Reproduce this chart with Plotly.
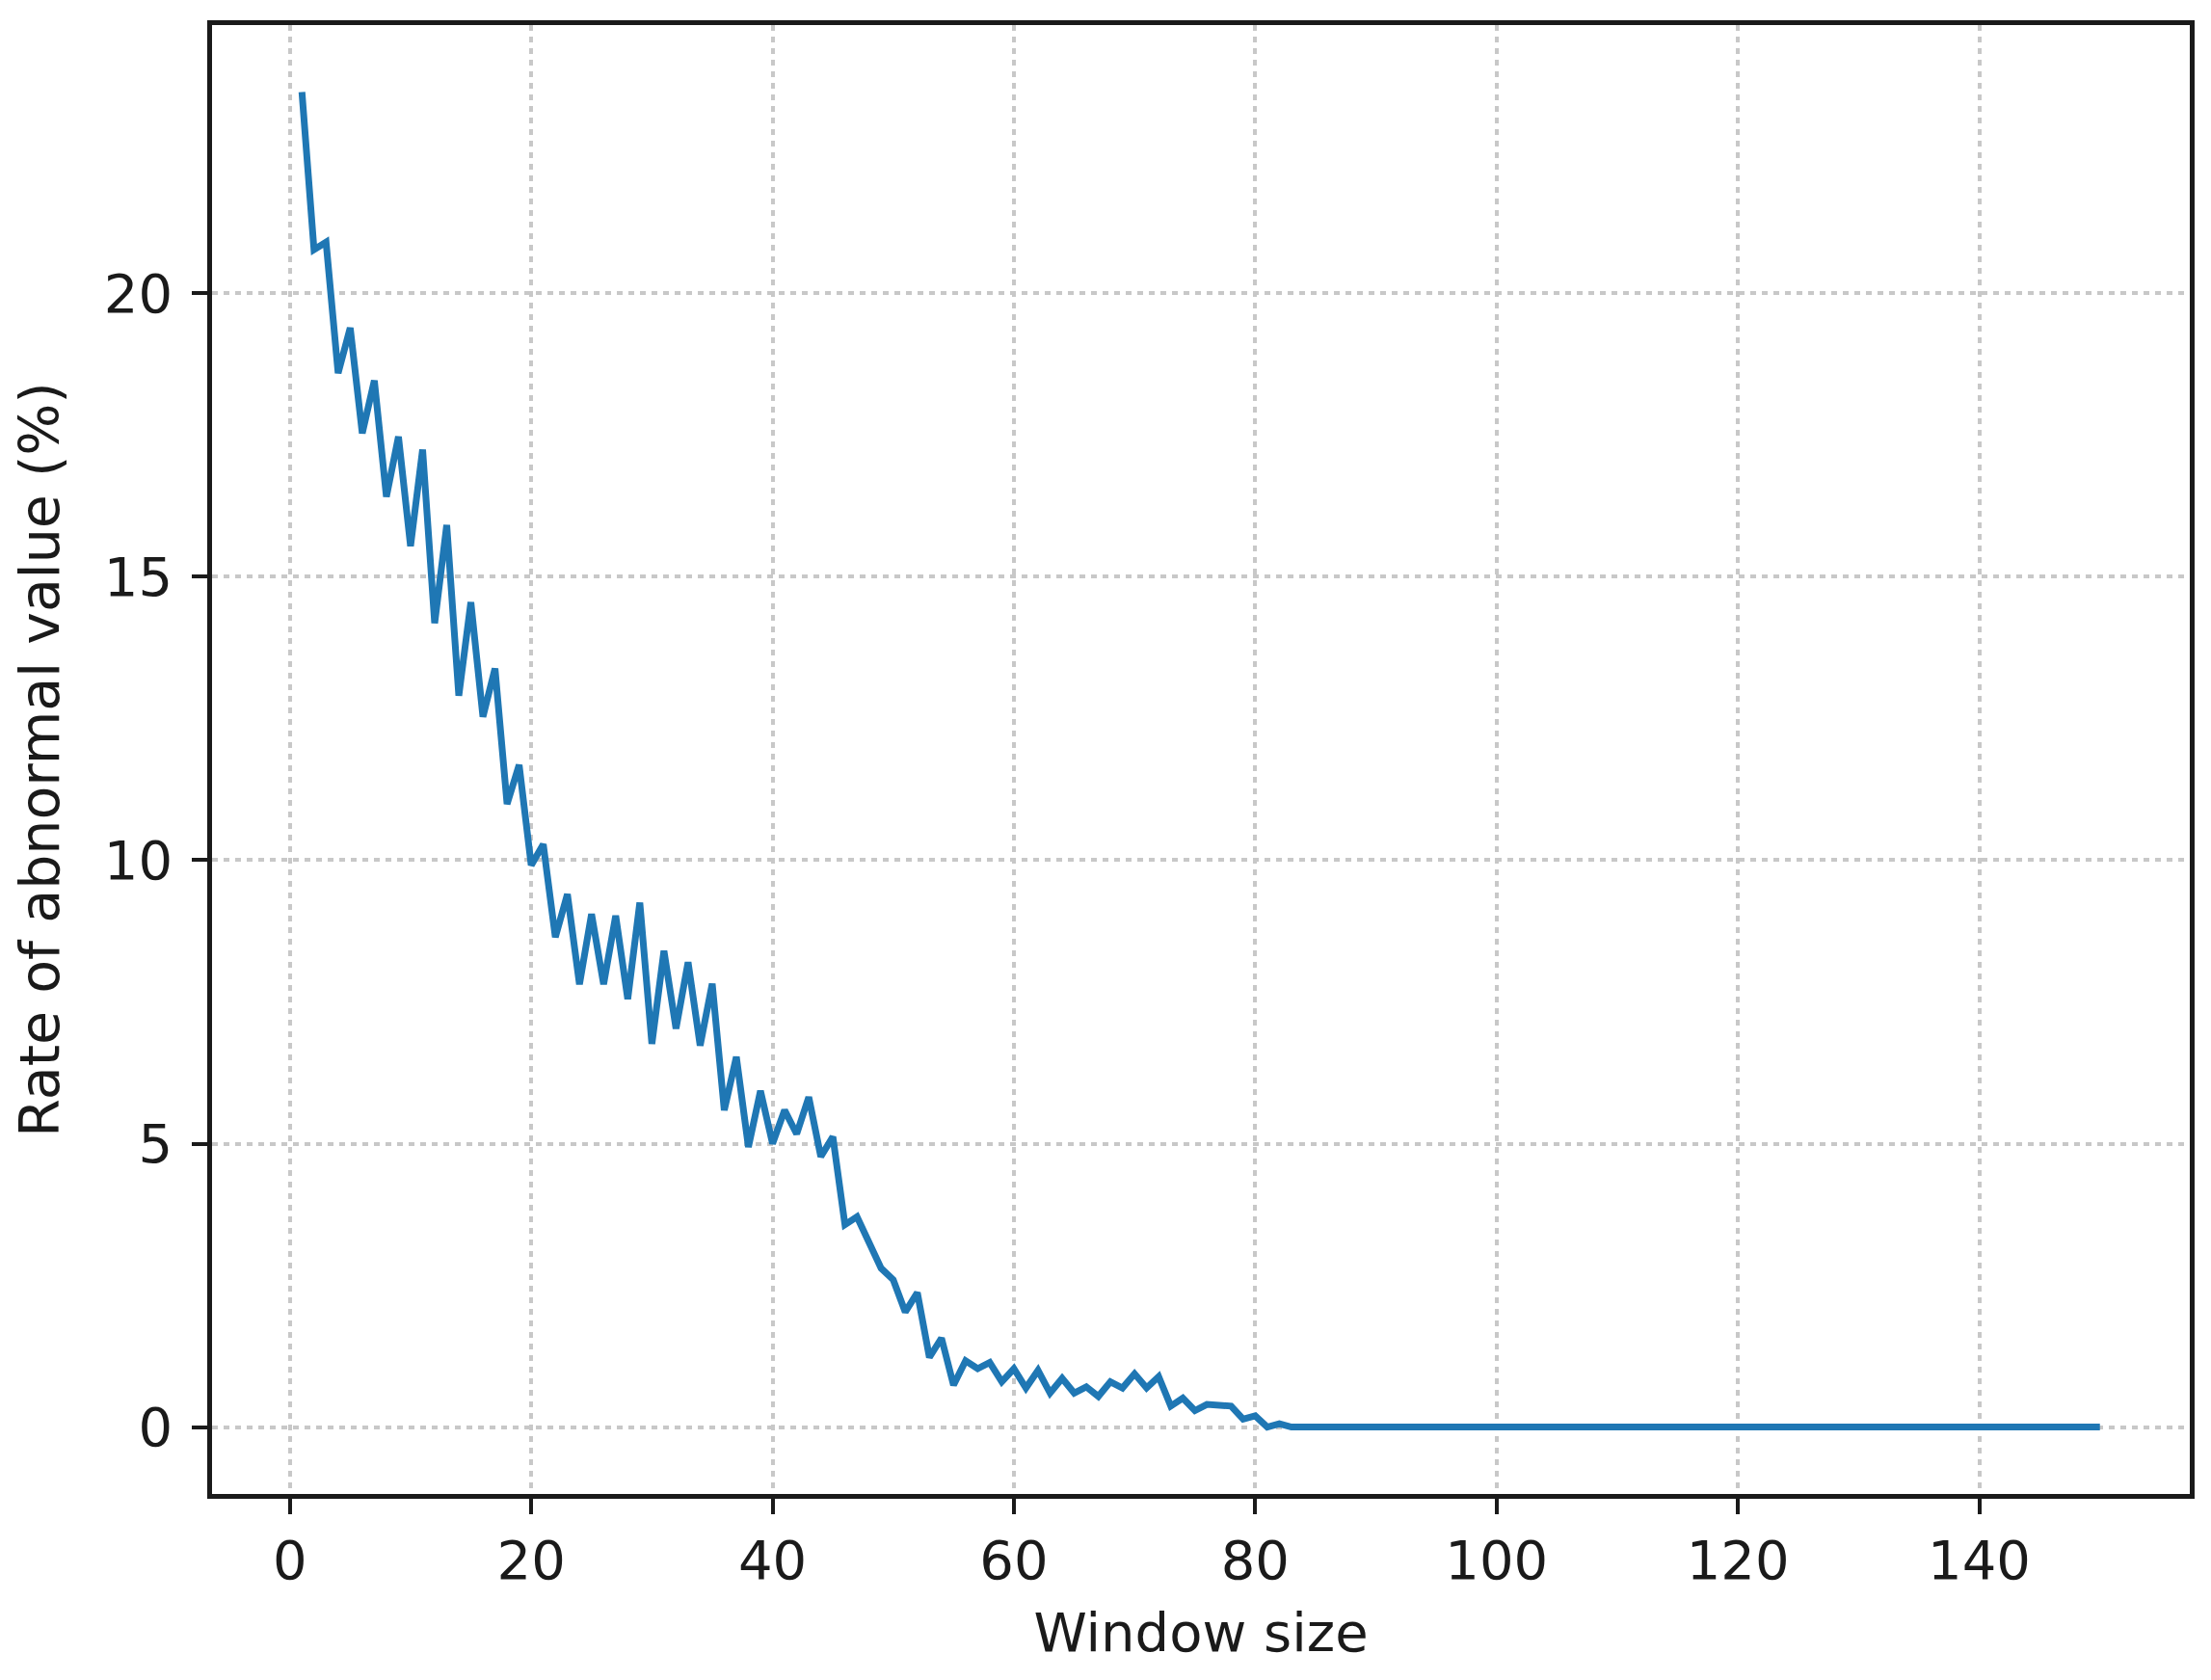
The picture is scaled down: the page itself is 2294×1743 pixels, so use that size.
import plotly.graph_objects as go

# Window sizes (x)
window_size = list(range(1, 151))

# Rate of abnormal value (%) for window sizes 1..150
rate_1_40 = [
    23.55, 20.77, 20.90, 18.59, 19.39, 17.53, 18.46, 16.41, 17.47, 15.54,
    17.24, 14.18, 15.91, 12.90, 14.55, 12.53, 13.38, 10.99, 11.68, 9.91,
    10.28, 8.64, 9.40, 7.81, 9.05, 7.81, 9.02, 7.55, 9.25, 6.76,
    8.40, 7.03, 8.20, 6.73, 7.82, 5.59, 6.53, 4.94, 5.93, 5.00,
]
rate_41_82 = [
    5.59, 5.17, 5.82, 4.77, 5.12, 3.57, 3.71, 3.25, 2.80, 2.60,
    2.03, 2.37, 1.23, 1.57, 0.74, 1.17, 1.03, 1.14, 0.80, 1.03,
    0.69, 1.00, 0.60, 0.86, 0.60, 0.71, 0.54, 0.80, 0.69, 0.94,
    0.69, 0.89, 0.37, 0.51, 0.29, 0.40, 0.37, 0.37, 0.14, 0.20,
    0.00, 0.06,
]
rate_83_150 = [
    0, 0, 0, 0, 0, 0, 0, 0, 0, 0, 0, 0, 0, 0, 0, 0, 0, 0, 0, 0,
    0, 0, 0, 0, 0, 0, 0, 0, 0, 0, 0, 0, 0, 0, 0, 0, 0, 0, 0, 0,
    0, 0, 0, 0, 0, 0, 0, 0, 0, 0, 0, 0, 0, 0, 0, 0, 0, 0, 0, 0,
    0, 0, 0, 0, 0, 0, 0, 0,
]
rate = rate_1_40 + rate_41_82 + rate_83_150

x_ticks = [0, 20, 40, 60, 80, 100, 120, 140]
y_ticks = [0, 5, 10, 15, 20]

FONT = "DejaVu Sans"
TXT = "#1a1a1a"

fig = go.Figure()
fig.add_trace(go.Scatter(
    x=window_size, y=rate, mode="lines",
    line=dict(color="#1f77b4", width=7),
    showlegend=False,
))

axis_common = dict(
    showline=True, mirror=True, linecolor="#1a1a1a", linewidth=4.5,
    ticks="outside", ticklen=16, tickwidth=4, tickcolor="#1a1a1a",
    showgrid=True, gridcolor="#c8c8c8", gridwidth=3.5, griddash="6px,6px",
    zeroline=False,
    tickfont=dict(family=FONT, size=56, color=TXT),
)

fig.update_layout(
    width=2294, height=1743,
    margin=dict(l=212, r=30, t=18, b=201),
    paper_bgcolor="white", plot_bgcolor="white",
    xaxis=dict(
        range=[-6.45, 157.45], tickvals=x_ticks,
        title=dict(text="Window size", font=dict(family=FONT, size=56, color=TXT), standoff=25),
        ticklabelstandoff=0,
        **axis_common,
    ),
    yaxis=dict(
        range=[-1.18, 24.73], tickvals=y_ticks,
        title=dict(text="Rate of abnormal value (%)", font=dict(family=FONT, size=57, color=TXT), standoff=31),
        ticklabelstandoff=9,
        **axis_common,
    ),
)

fig.write_html("out.html")
